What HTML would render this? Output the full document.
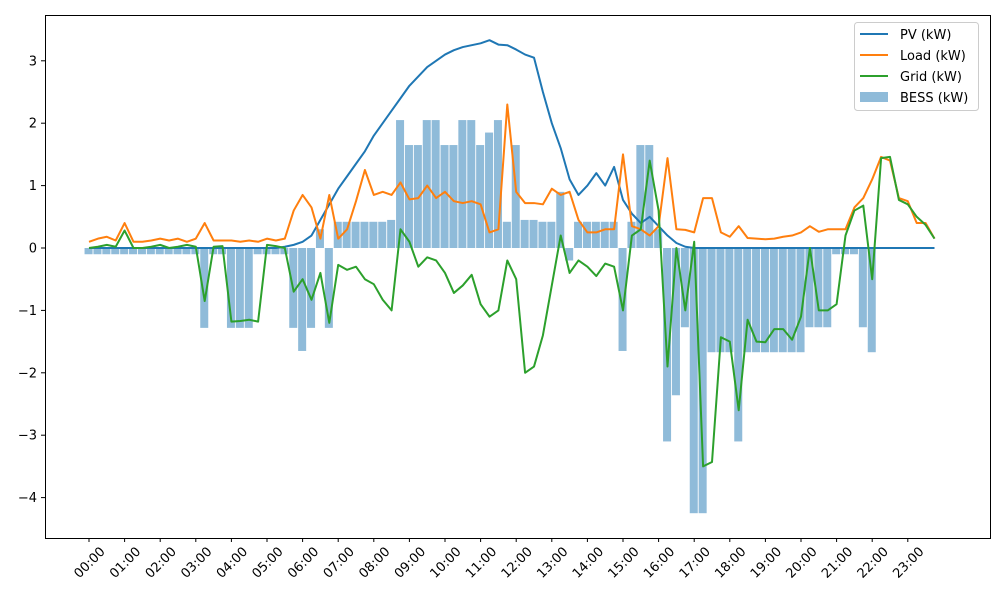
<!DOCTYPE html>
<html><head><meta charset="utf-8"><style>
body{margin:0;background:#fff;}
svg{display:block;font-family:"DejaVu Sans","Liberation Sans",sans-serif;}
</style></head><body>
<svg id="chart" width="1000" height="600" viewBox="0 0 1000 600" xmlns="http://www.w3.org/2000/svg">
<rect x="0" y="0" width="1000" height="600" fill="#fff"/>
<g id="bars"></g>
<g id="lines"></g>
<rect x="45.5" y="15.5" width="945" height="523" fill="none" stroke="#000" stroke-width="1"/>
<g id="yaxis"></g>
<g id="xaxis"></g>
<g>
<rect x="854.5" y="22.5" width="124" height="88" rx="3" fill="#fff" fill-opacity="0.8" stroke="#ccc"/>
<line x1="860" y1="34" x2="888" y2="34" stroke="#1f77b4" stroke-width="2"/>
<text x="900" y="39" font-size="13">PV (kW)</text>
<line x1="860" y1="55" x2="888" y2="55" stroke="#ff7f0e" stroke-width="2"/>
<text x="900" y="60" font-size="13">Load (kW)</text>
<line x1="860" y1="76" x2="888" y2="76" stroke="#2ca02c" stroke-width="2"/>
<text x="900" y="81" font-size="13">Grid (kW)</text>
<rect x="860" y="92" width="28" height="10" fill="#1f77b4" fill-opacity="0.5"/>
<text x="900" y="102" font-size="13">BESS (kW)</text>
</g>
</svg>
<script>
const pv=[0,0,0,0,0,0,0,0,0,0,0,0,0,0,0,0,0,0,0,0,0,0,0.02,0.05,0.1,0.2,0.45,0.7,0.95,1.15,1.35,1.55,1.8,2.0,2.2,2.4,2.6,2.75,2.9,3.0,3.1,3.17,3.22,3.25,3.28,3.33,3.26,3.25,3.18,3.1,3.05,2.5,2.0,1.6,1.1,0.85,1.0,1.2,1.0,1.3,0.77,0.55,0.4,0.5,0.35,0.2,0.08,0.02,0,0,0,0,0,0,0,0,0,0,0,0,0,0,0,0,0,0,0,0,0,0,0,0,0,0,0,0];
const load=[0.1,0.15,0.18,0.12,0.4,0.1,0.1,0.12,0.15,0.12,0.15,0.1,0.15,0.4,0.12,0.12,0.12,0.1,0.12,0.1,0.15,0.12,0.15,0.6,0.85,0.65,0.15,0.85,0.15,0.3,0.75,1.25,0.85,0.9,0.85,1.05,0.78,0.8,1.0,0.8,0.9,0.75,0.72,0.75,0.7,0.25,0.3,2.3,0.9,0.72,0.72,0.7,0.95,0.85,0.9,0.45,0.25,0.25,0.3,0.3,1.5,0.35,0.3,0.2,0.35,1.44,0.3,0.29,0.25,0.8,0.8,0.25,0.18,0.35,0.16,0.15,0.14,0.15,0.18,0.2,0.25,0.35,0.26,0.3,0.3,0.3,0.65,0.8,1.1,1.46,1.4,0.8,0.75,0.4,0.4,0.15];
const grid=[0,0.02,0.05,0.02,0.28,0,0,0.02,0.05,0,0.02,0.05,0.02,-0.85,0.02,0.03,-1.18,-1.17,-1.15,-1.18,0.05,0.03,0,-0.7,-0.5,-0.83,-0.4,-1.2,-0.27,-0.35,-0.3,-0.5,-0.58,-0.83,-1.0,0.3,0.1,-0.3,-0.15,-0.2,-0.4,-0.72,-0.6,-0.43,-0.9,-1.1,-1.0,-0.2,-0.5,-2.0,-1.9,-1.4,-0.6,0.2,-0.4,-0.2,-0.3,-0.45,-0.25,-0.3,-1.0,0.2,0.3,1.4,0.6,-1.9,0,-1.0,0.1,-3.5,-3.43,-1.43,-1.5,-2.6,-1.15,-1.5,-1.51,-1.3,-1.3,-1.47,-1.1,0,-1.0,-1.0,-0.9,0.2,0.6,0.68,-0.5,1.44,1.46,0.77,0.7,0.5,0.37,0.15];
const bess=[-0.1,-0.1,-0.1,-0.1,-0.1,-0.1,-0.1,-0.1,-0.1,-0.1,-0.1,-0.1,-0.1,-1.28,-0.1,-0.1,-1.28,-1.28,-1.28,-0.1,-0.1,-0.1,-0.1,-1.28,-1.65,-1.28,0.3,-1.28,0.42,0.42,0.42,0.42,0.42,0.42,0.45,2.05,1.65,1.65,2.05,2.05,1.65,1.65,2.05,2.05,1.65,1.85,2.05,0.42,1.65,0.45,0.45,0.42,0.42,0.9,-0.2,0.42,0.42,0.42,0.42,0.42,-1.65,0.42,1.65,1.65,0.3,-3.1,-2.36,-1.27,-4.25,-4.25,-1.67,-1.67,-1.67,-3.1,-1.67,-1.67,-1.67,-1.67,-1.67,-1.67,-1.67,-1.27,-1.27,-1.27,-0.1,-0.1,-0.1,-1.27,-1.67,0,0,0,0,0,0,0];
const yTicks=[-4,-3,-2,-1,0,1,2,3];
const xTickLabels=["00:00","01:00","02:00","03:00","04:00","05:00","06:00","07:00","08:00","09:00","10:00","11:00","12:00","13:00","14:00","15:00","16:00","17:00","18:00","19:00","20:00","21:00","22:00","23:00"];
const NS="http://www.w3.org/2000/svg";
const stepH=0.25;
function xs(h){return 89+35.6*h;}
function ys(v){return 248-62.4*v;}
function mk(tag,attrs,parent){const e=document.createElementNS(NS,tag);for(const k in attrs)e.setAttribute(k,attrs[k]);parent.appendChild(e);return e;}
const barsG=document.getElementById('bars');
const bw=35.6*stepH;
bess.forEach((v,i)=>{
  const x=xs(i*stepH)-bw/2, y0=ys(0), y1=ys(v);
  const r=mk('rect',{x:x.toFixed(2),y:Math.min(y0,y1).toFixed(2),width:(bw*0.9).toFixed(2),height:Math.abs(y1-y0).toFixed(2),fill:'#1f77b4','fill-opacity':0.5},barsG);
  
  
});
const linesG=document.getElementById('lines');
[[pv,'#1f77b4','pv-line'],[load,'#ff7f0e','load-line'],[grid,'#2ca02c','grid-line']].forEach(([arr,c,n])=>{
  const d=arr.map((v,i)=>(i?'L':'M')+xs(i*stepH).toFixed(2)+','+ys(v).toFixed(2)).join('');
  const p=mk('path',{d:d,fill:'none',stroke:c,'stroke-width':2,'stroke-linejoin':'round'},linesG);
  
  
});
const yG=document.getElementById('yaxis');
yTicks.forEach(t=>{
  const y=ys(t);
  mk('line',{x1:41,x2:45,y1:y,y2:y,stroke:'#000'},yG);
  const tx=mk('text',{x:37,y:y+4.5,'font-size':13,'text-anchor':'end'},yG);
  tx.textContent=(t<0?'\u2212'+(-t):String(t));
  
  
});
const xG=document.getElementById('xaxis');
xTickLabels.forEach((lab,i)=>{
  const x=xs(i);
  mk('line',{x1:x,x2:x,y1:538,y2:542,stroke:'#000'},xG);
  const tx=mk('text',{x:x,y:567,'font-size':13,'text-anchor':'middle',transform:`rotate(-45 ${x} 562)`},xG);
  tx.textContent=lab;
  
  
});
</script>
</body></html>
